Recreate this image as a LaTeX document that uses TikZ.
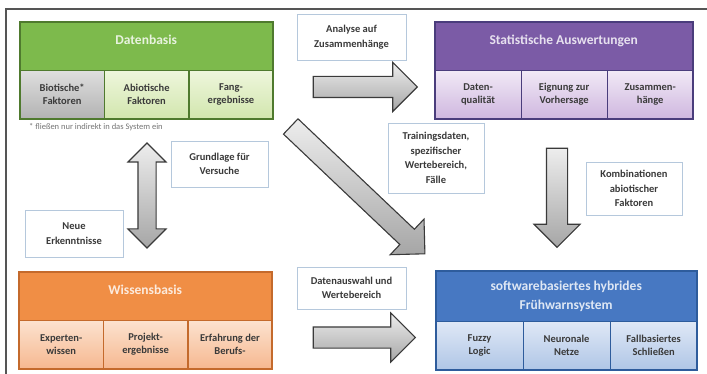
\documentclass[tikz,border=0pt]{standalone}
\usepackage{fontspec}
\setmainfont{Carlito}
\usetikzlibrary{positioning, shapes.arrows}
\definecolor{GreenHead}{HTML}{7DBA4C}
\definecolor{GreenLine}{HTML}{4F7A2E}
\definecolor{GreenTop}{HTML}{EEF6DC}
\definecolor{GreenBot}{HTML}{D2E6AE}
\definecolor{GrayTop}{HTML}{DEDEDE}
\definecolor{GrayBot}{HTML}{B3B3B3}
\definecolor{PurpleHead}{HTML}{7B5BA6}
\definecolor{PurpleLine}{HTML}{4A3D7C}
\definecolor{PurpleTop}{HTML}{F1E9F6}
\definecolor{PurpleBot}{HTML}{CFB7DF}
\definecolor{OrangeHead}{HTML}{F08E45}
\definecolor{OrangeLine}{HTML}{C46A2C}
\definecolor{OrangeTop}{HTML}{FCE2CF}
\definecolor{OrangeBot}{HTML}{F6B890}
\definecolor{BlueHead}{HTML}{4778C2}
\definecolor{BlueLine}{HTML}{2E5C9C}
\definecolor{BlueTop}{HTML}{DFE8F6}
\definecolor{BlueBot}{HTML}{AFC6E6}
\definecolor{InkGray}{HTML}{3A3A3A}
\definecolor{NoteLine}{HTML}{B5C8DC}
\definecolor{FrameGray}{HTML}{555555}

\begin{document}
\begin{tikzpicture}[x=1pt, y=-1pt,
      head/.style={draw=#1Line, fill=#1Head, text=#1Head!18!white, anchor=north west, align=center,
                   minimum height=48pt, inner sep=0pt, font=\bfseries\fontsize{13.5}{15.5}\selectfont},
      headup/.style={text depth=12pt},
      cell/.style={draw=#1Line, top color=#1Top, bottom color=#1Bot, text=InkGray, align=center,
                   minimum width=84pt, minimum height=48pt, inner sep=0pt, font=\bfseries\fontsize{10.5}{13}\selectfont},
      frame/.style={draw=#1Line, line width=1.6pt},
      note/.style={draw=NoteLine, fill=white, text=InkGray, align=center, inner sep=2pt,
                   font=\bfseries\fontsize{10.5}{14.5}\selectfont},
      blockarrow/.style={single arrow, draw=InkGray, line width=1.1pt, top color=white!93!black,
                   bottom color=white!65!black, inner xsep=0pt, inner ysep=10pt,
                   single arrow head extend=14pt},
      footnote/.style={text=black!55, font=\fontsize{8.5}{9}\selectfont, inner sep=0pt}]
      \useasboundingbox (0,0) rectangle (707,374);
      \draw[FrameGray, line width=1.4pt] (707,9) -- (6,9) -- (6,374);
      % Datenbasis
      \node[head=Green, headup, minimum width=252pt] (daten) at (20,22) {Datenbasis};
      \node[cell=Green, top color=GrayTop, bottom color=GrayBot, anchor=north west] (bio) at (daten.south west) {Biotische*\\Faktoren};
      \node[cell=Green, right=0pt of bio] (abio) {Abiotische\\Faktoren};
      \node[cell=Green, right=0pt of abio] (fang) {Fang-\\ergebnisse};
      \draw[frame=Green] (daten.north west) rectangle (fang.south east);
      \node[footnote, anchor=west] (fn) at (29,127) {* fließen nur indirekt in das System ein};
      % Statistische Auswertungen
      \node[head=Purple, headup, minimum width=257pt] (stat) at (435,22) {Statistische Auswertungen};
      \node[cell=Purple, minimum width=85.67pt, anchor=north west] (qual) at (stat.south west) {Daten-\\qualität};
      \node[cell=Purple, minimum width=85.67pt, right=0pt of qual] (eign) {Eignung zur\\Vorhersage};
      \node[cell=Purple, minimum width=85.67pt, right=0pt of eign] (zus) {Zusammen-\\hänge};
      \draw[frame=Purple] (stat.north west) rectangle (zus.south east);
      % Wissensbasis
      \node[head=Orange, headup, minimum width=252pt] (wissen) at (19,272) {Wissensbasis};
      \node[cell=Orange, anchor=north west] (exp) at (wissen.south west) {Experten-\\wissen};
      \node[cell=Orange, right=0pt of exp] (proj) {Projekt-\\ergebnisse};
      \node[cell=Orange, right=0pt of proj] (erf) {Erfahrung der\\Berufs-};
      \draw[frame=Orange] (wissen.north west) rectangle (erf.south east);
      % Fruehwarnsystem
      \node[head=Blue, minimum width=260pt, minimum height=50pt, font=\bfseries\fontsize{13.5}{18.5}\selectfont] (fws) at (436,271) {softwarebasiertes hybrides\\Frühwarnsystem};
      \node[cell=Blue, minimum width=86.67pt, anchor=north west] (fuzzy) at (fws.south west) {Fuzzy\\Logic};
      \node[cell=Blue, minimum width=86.67pt, right=0pt of fuzzy] (neuro) {Neuronale\\Netze};
      \node[cell=Blue, minimum width=86.67pt, right=0pt of neuro] (fall) {Fallbasiertes\\Schließen};
      \draw[frame=Blue] (fws.north west) rectangle (fall.south east);
      % Labels
      \node[note, minimum width=109pt, minimum height=46pt] (analyse) at (351.5,37) {Analyse auf\\Zusammenhänge};
      \node[note, minimum width=97pt, minimum height=46pt] (grund) at (219.5,164) {Grundlage für\\Versuche};
      \node[note, minimum width=98pt, minimum height=47pt] (neue) at (74,233.5) {Neue\\Erkenntnisse};
      \node[note, minimum width=96pt, minimum height=70pt] (train) at (436,158) {Trainingsdaten,\\spezifischer\\Wertebereich,\\Fälle};
      \node[note, minimum width=96pt, minimum height=53pt] (komb) at (634,188.5) {Kombinationen\\abiotischer\\Faktoren};
      \node[note, minimum width=109pt, minimum height=42pt] (auswahl) at (351.5,288) {Datenauswahl und\\Wertebereich};
      % Block arrows
      \node[blockarrow, minimum height=104pt] (toStat) at (360,87) {};
      \node[blockarrow, minimum height=102pt] (toFws) at (359,337.5) {};
      \node[blockarrow, minimum height=99pt, rotate=-90, single arrow head extend=12.5pt] (down) at (557,192.5) {};
      \node[blockarrow, minimum height=185pt, rotate=-43.5] (diag) at (354,186.5) {};
      \node[double arrow, draw=InkGray, line width=1.1pt, top color=white!93!black, bottom color=white!65!black,
            inner xsep=0pt, inner ysep=8.5pt, double arrow head extend=10pt,
            minimum height=105pt, rotate=90] (updown) at (147,195.5) {};
    \end{tikzpicture}
\end{document}
